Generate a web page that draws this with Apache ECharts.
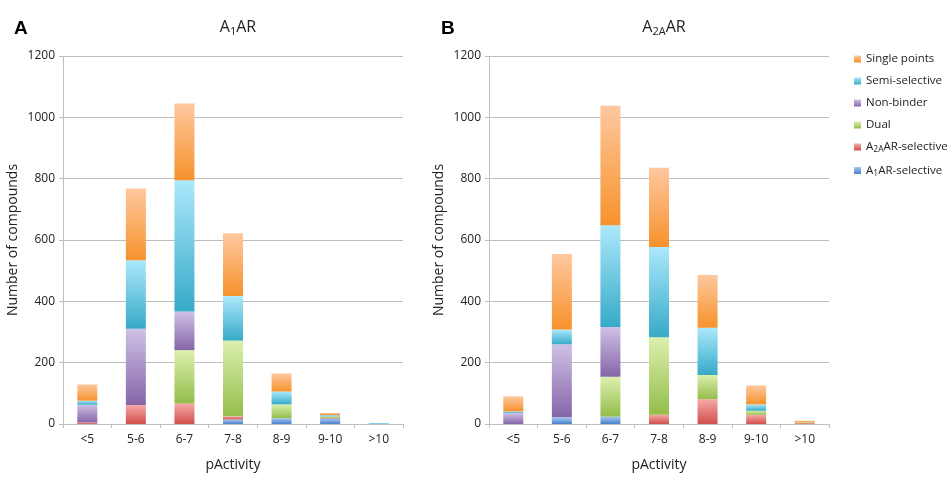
<!DOCTYPE html>
<html>
<head>
<meta charset="utf-8">
<script src="https://cdn.jsdelivr.net/npm/echarts@6/dist/echarts.min.js"></script>
<style>html,body{margin:0;padding:0;background:#fff;}#c{width:948px;height:477px;}</style>
</head>
<body>
<div id="c"></div>
<script>
// ---- Data ----
var categories = ['<5', '5-6', '6-7', '7-8', '8-9', '9-10', '>10'];
var yTicks = [0, 200, 400, 600, 800, 1000, 1200];

// Panel A: A1AR
var a1_A1sel  = [0, 0, 0, 15, 19, 18, 0];
var a1_A2Asel = [5, 62, 67, 10, 0, 2, 0];
var a1_Dual   = [0, 0, 174, 247, 45, 5, 0];
var a1_Non    = [58, 249, 126, 0, 0, 0, 0];
var a1_Semi   = [13, 223, 428, 145, 42, 4, 3];
var a1_Single = [53, 234, 250, 205, 59, 7, 0];

// Panel B: A2AAR
var a2_A1sel  = [0, 22, 24, 0, 0, 0, 0];
var a2_A2Asel = [0, 0, 0, 30, 81, 30, 3];
var a2_Dual   = [0, 0, 130, 253, 79, 13, 3];
var a2_Non    = [36, 238, 162, 0, 0, 0, 0];
var a2_Semi   = [5, 48, 332, 294, 154, 21, 0];
var a2_Single = [49, 246, 390, 259, 172, 62, 5];

var seriesNames = ['A1AR-selective', 'A2AAR-selective', 'Dual', 'Non-binder', 'Semi-selective', 'Single points'];
var panelA = [a1_A1sel, a1_A2Asel, a1_Dual, a1_Non, a1_Semi, a1_Single];
var panelB = [a2_A1sel, a2_A2Asel, a2_Dual, a2_Non, a2_Semi, a2_Single];

// ---- Styles ----
var grads = [
  ['#a6c8f0', '#4a80cc'],
  ['#f5aaa8', '#d24e4b'],
  ['#dcf0ae', '#94bd4a'],
  ['#cfc1e6', '#8565a8'],
  ['#ace8fc', '#36aac7'],
  ['#fec89f', '#f6922c']
];
var legendColors = ['#4f86d1', '#d9534f', '#9bc34f', '#8a6bb0', '#3fb3d0', '#f79433'];
function grad(c) {
  return new echarts.graphic.LinearGradient(0, 0, 0, 1, [
    {offset: 0, color: c[0]}, {offset: 1, color: c[1]}
  ]);
}
var font = '"Open Sans", Lato, sans-serif';

var chart = echarts.init(document.getElementById('c'));
var series = [];
function addPanel(vals, idx, stack) {
  for (var i = 0; i < vals.length; i++) {
    series.push({
      name: seriesNames[i],
      type: 'bar',
      stack: stack,
      xAxisIndex: idx,
      yAxisIndex: idx,
      barWidth: 20,
      data: vals[i],
      color: legendColors[i],
      itemStyle: {color: grad(grads[i])},
      emphasis: {disabled: true}
    });
  }
}
addPanel(panelA, 0, 'A');
addPanel(panelB, 1, 'B');

var richName = {
  n: {fontSize: 11.5, fontFamily: font, color: '#222'},
  s: {fontSize: 8.5, fontFamily: font, color: '#222', padding: [6, 0, 0, 0]}
};
function legendFmt(name) {
  if (name === 'A1AR-selective') return '{n|A}{s|1}{n|AR-selective}';
  if (name === 'A2AAR-selective') return '{n|A}{s|2A}{n|AR-selective}';
  return '{n|' + name + '}';
}

function xAx(idx) {
  return {
    type: 'category', gridIndex: idx, data: categories,
    name: 'pActivity', nameLocation: 'middle', nameGap: 34,
    nameTextStyle: {fontSize: 14, fontFamily: font, color: '#222'},
    axisLine: {lineStyle: {color: '#bfbfbf', width: 1}},
    axisTick: {show: true, length: 4, alignWithLabel: false, lineStyle: {color: '#bfbfbf'}},
    axisLabel: {fontSize: 12, fontFamily: font, color: '#222', margin: 10}
  };
}
function yAx(idx) {
  return {
    type: 'value', gridIndex: idx, min: yTicks[0], max: yTicks[yTicks.length - 1], interval: 200,
    name: 'Number of compounds', nameLocation: 'middle', nameGap: 43,
    nameTextStyle: {fontSize: 14, fontFamily: font, color: '#222'},
    axisLine: {show: true, lineStyle: {color: '#bfbfbf', width: 1}},
    axisTick: {show: true, length: 4, lineStyle: {color: '#bfbfbf'}},
    axisLabel: {fontSize: 12, fontFamily: font, color: '#222', margin: 8, formatter: function (v) { return String(v); }},
    splitLine: {lineStyle: {color: '#bdbdbd', width: 1}}
  };
}

var titleRich = {
  n: {fontSize: 16, fontFamily: font, fontWeight: 'normal', color: '#222'},
  s: {fontSize: 11, fontFamily: font, fontWeight: 'normal', color: '#222', padding: [8, 0, 0, 0]}
};

chart.setOption({
  animation: false,
  textStyle: {fontFamily: font},
  title: [
    {text: 'A', left: 9, top: 14, textStyle: {fontSize: 19, fontWeight: 'bold', fontFamily: 'Liberation Sans, Arial', color: '#000'}},
    {text: 'B', left: 436, top: 14, textStyle: {fontSize: 19, fontWeight: 'bold', fontFamily: 'Liberation Sans, Arial', color: '#000'}},
    {text: '{n|A}{s|1}{n|AR}', left: 233, top: 13, textAlign: 'center', textStyle: {fontWeight: 'normal', rich: titleRich}},
    {text: '{n|A}{s|2A}{n|AR}', left: 659, top: 13, textAlign: 'center', textStyle: {fontWeight: 'normal', rich: titleRich}}
  ],
  legend: {
    orient: 'vertical', left: 849, top: 48, itemGap: 10,
    itemWidth: 7, itemHeight: 7, icon: 'rect',
    data: seriesNames.slice().reverse(),
    formatter: legendFmt,
    textStyle: {rich: richName, fontSize: 11.5},
    selectedMode: false
  },
  grid: [
    {left: 63, right: 545, top: 56, bottom: 42},
    {left: 489, right: 119, top: 56, bottom: 42}
  ],
  xAxis: [xAx(0), xAx(1)],
  yAxis: [yAx(0), yAx(1)],
  series: series
});
</script>
</body>
</html>
